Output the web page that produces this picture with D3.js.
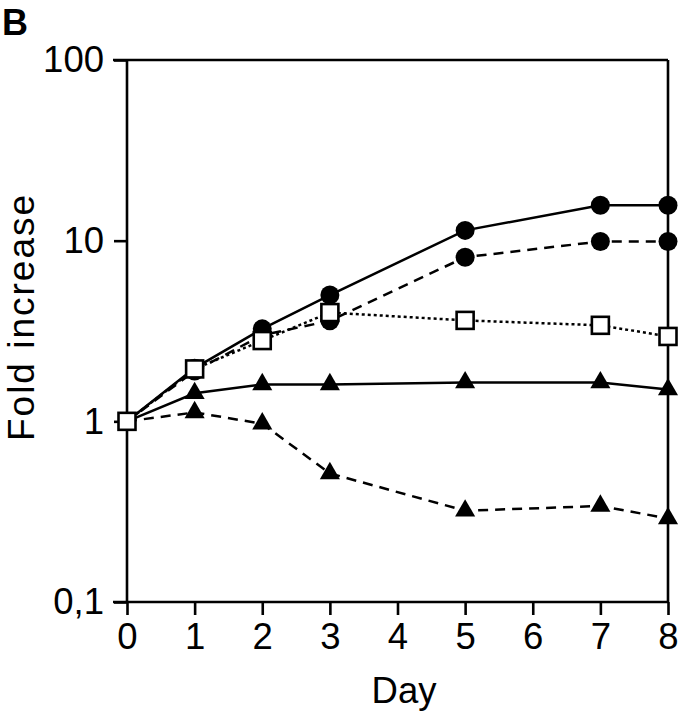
<!DOCTYPE html>
<html><head><meta charset="utf-8">
<script src="https://cdn.jsdelivr.net/npm/d3@7"></script>
<style>body{margin:0;background:#fff}svg{display:block}text{font-family:"Liberation Sans",Arial,sans-serif;fill:#000}</style>
</head><body>
<svg id="c" width="682" height="720"></svg>
<script>
const days = [0,1,2,3,5,7,8];
const xTicks = [0,1,2,3,4,5,6,7,8];
const yTicks = [0.1,1,10,100];
const yTickLabels = ["0,1","1","10","100"];
const solidCircles  = [1,1.97,3.25,5.0,11.4,15.7,15.7];
const dashedCircles = [1,1.9,3.0,3.6,8.1,9.9,9.9];
const dottedSquares = [1,1.95,2.8,4.0,3.62,3.4,2.95];
const solidTriangles = [1,1.43,1.6,1.6,1.64,1.64,1.5];
const dashedTriangles = [1,1.12,0.97,0.515,0.32,0.34,0.29];

const svg = d3.select("#c");
const x = d3.scaleLinear().domain([0,8]).range([127,668]);
const y = d3.scaleLog().domain([0.1,100]).range([602,60]);

const g = svg.append("g");
g.append("line").attr("x1",113).attr("x2",668).attr("y1",y(100)).attr("y2",y(100)).attr("stroke","#000").attr("stroke-width",2.6);
g.append("line").attr("x1",668).attr("x2",668).attr("y1",y(100)).attr("y2",y(0.1)).attr("stroke","#000").attr("stroke-width",2.6);

const xAxis = d3.axisBottom(x).tickValues(xTicks).tickSize(13).tickPadding(8).tickFormat(d3.format("d"));
const gx = svg.append("g").attr("transform",`translate(0,${y(0.1)})`).call(xAxis);
gx.select(".domain").attr("d",`M113,0H668`).attr("stroke-width",2.6);
gx.selectAll(".tick line").attr("stroke-width",2.6);
gx.selectAll(".tick text").attr("font-size",36.5).attr("font-family","Liberation Sans, Arial, sans-serif");

const yAxis = d3.axisLeft(y).tickValues(yTicks).tickSize(13).tickPadding(10).tickFormat((d,i)=>yTickLabels[i]);
const gy = svg.append("g").attr("transform",`translate(${x(0)},0)`).call(yAxis);
gy.select(".domain").attr("d",`M0,${y(100)}V${y(0.1)}`).attr("stroke-width",2.6);
gy.selectAll(".tick line").attr("stroke-width",2.6);
gy.selectAll(".tick text").attr("font-size",36.5).attr("font-family","Liberation Sans, Arial, sans-serif");

const line = d3.line().x((d,i)=>x(days[i])).y(d=>y(d));
const series = [
  {v:dashedTriangles, dash:"10,7", m:"tri"},
  {v:solidTriangles, dash:null, m:"tri"},
  {v:dashedCircles, dash:"10,7", m:"circ"},
  {v:solidCircles, dash:null, m:"circ"},
  {v:dottedSquares, dash:"3,3", m:"sq"}
];
series.forEach(s=>{
  svg.append("path").datum(s.v).attr("d",line).attr("fill","none").attr("stroke","#000")
    .attr("stroke-width",2.5).attr("stroke-dasharray",s.dash);
});
const triSym = d3.symbol().type(d3.symbolTriangle).size(175);
series.forEach(s=>{
  const gg = svg.append("g");
  s.v.forEach((v,i)=>{
    if (s.m==="sq" || (i===0)) return;
    if (s.m==="circ") gg.append("circle").attr("cx",x(days[i])).attr("cy",y(v)).attr("r",9.5).attr("fill","#000");
    if (s.m==="tri") gg.append("path").attr("d",triSym()).attr("transform",`translate(${x(days[i])},${y(v)})`).attr("fill","#000");
  });
});
const sq = series[4];
sq.v.forEach((v,i)=>{
  svg.append("rect").attr("x",x(days[i])-8.5).attr("y",y(v)-8.5).attr("width",17).attr("height",17)
    .attr("fill","#fff").attr("stroke","#000").attr("stroke-width",2.6);
});

svg.append("text").attr("x",404).attr("y",703).attr("text-anchor","middle").attr("font-size",36.5).text("Day");
svg.append("text").attr("transform","translate(34,317) rotate(-90)").attr("text-anchor","middle").attr("font-size",37).attr("letter-spacing",2).text("Fold increase");
svg.append("text").attr("x",2).attr("y",35).attr("font-size",36).attr("font-weight","bold").text("B");
</script>
</body></html>
